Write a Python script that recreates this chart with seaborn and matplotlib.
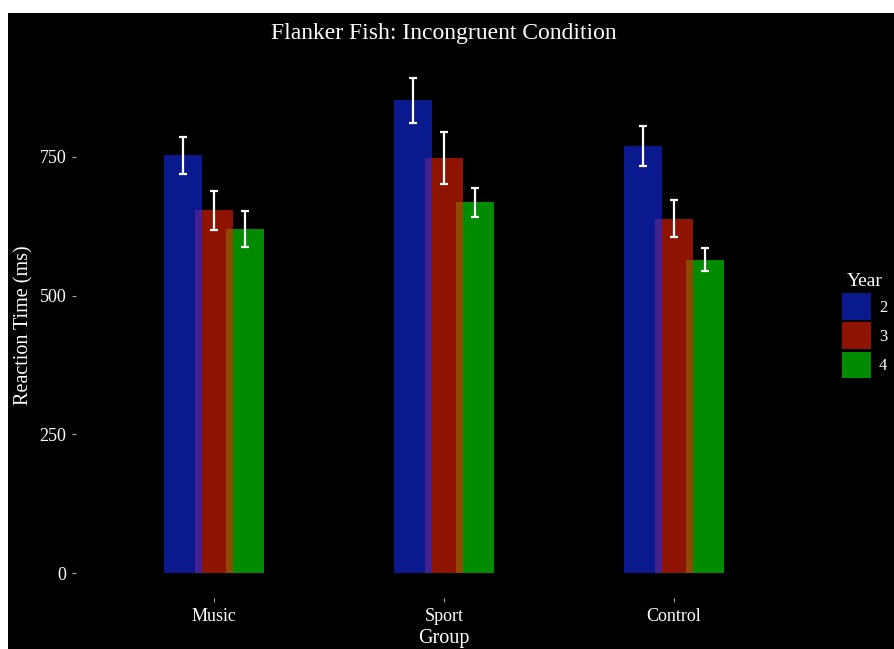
import numpy as np
import pandas as pd
import matplotlib
matplotlib.use("Agg")
import matplotlib.pyplot as plt
import seaborn as sns
from matplotlib.patches import Rectangle, Patch

# Données
groups = ["Music", "Sport", "Control"]
years = ["2", "3", "4"]
rt_year2 = [753, 852, 770]
rt_year3 = [654, 748, 639]
rt_year4 = [620, 668, 565]
err_year2 = [33, 41, 36]
err_year3 = [35, 47, 33]
err_year4 = [32, 26, 20]

colors = ["#112BEE", "#EE2000", "#00E900"]
alpha = 0.6

rows = []
for year, vals, errs in zip(years, [rt_year2, rt_year3, rt_year4], [err_year2, err_year3, err_year4]):
    for g, v, e in zip(groups, vals, errs):
        rows.append({"Group": g, "Year": year, "RT": v, "err": e})
df = pd.DataFrame(rows)

sns.set_style("white")
plt.rcParams["font.family"] = ["Liberation Serif", "DejaVu Serif"]

W, H = 894, 649
fig = plt.figure(figsize=(W / 100, H / 100), dpi=100, facecolor="white")
fig.patches.append(Rectangle((8 / W, 0), 1 - 8 / W, 1 - 13 / H, transform=fig.transFigure,
                             facecolor="black", edgecolor="none", zorder=-10))
ax = fig.add_axes([76 / W, 1 - 598 / H, 736 / W, 546 / H])
ax.set_facecolor("black")

sns.barplot(data=df, x="Group", y="RT", hue="Year", order=groups, hue_order=years,
            palette=colors, saturation=1, alpha=alpha, width=0.398, errorbar=None,
            legend=False, ax=ax)

bar_w = 38 / 230
for i, (cont, year) in enumerate(zip(ax.containers, years)):
    sub = df[df["Year"] == year].set_index("Group").loc[groups]
    xs = []
    for p in cont.patches:
        cx = p.get_x() + p.get_width() / 2
        p.set_width(bar_w)
        p.set_x(cx - bar_w / 2)
        p.set_zorder(3 - i)
        p.set_linewidth(0)
        xs.append(cx)
    ax.errorbar(xs, sub["RT"].values, yerr=sub["err"].values, fmt="none",
                ecolor="white", elinewidth=1.6, capsize=2.6, capthick=1.6, zorder=6)

ax.set_xlim(-0.6, 2.6)
ax.set_ylim(-44.7, 939)
ax.set_yticks([0, 250, 500, 750])
for s in ax.spines.values():
    s.set_visible(False)
ax.tick_params(axis="both", left=True, bottom=True, colors="#AAAAAA", length=3,
               width=0.8, pad=4, labelcolor="white", labelsize=13)
ax.set_xlabel("Group", color="white", fontsize=14.5, labelpad=3)
ax.set_ylabel("Reaction Time (ms)", color="white", fontsize=14.5, labelpad=4)

fig.text(444 / W, 1 - 33 / H, "Flanker Fish: Incongruent Condition", color="white",
         fontsize=17, ha="center", va="center")

handles = [Patch(facecolor=c, alpha=alpha, edgecolor="none") for c in colors]
leg = fig.legend(handles, years, title="Year", loc="upper left",
                 bbox_to_anchor=(834 / W, 1 - 265 / H), bbox_transform=fig.transFigure,
                 frameon=False, fontsize=12, title_fontsize=14, handlelength=1.7,
                 handleheight=2.1, labelspacing=0.15, borderpad=0, handletextpad=0.5)
for t in leg.get_texts():
    t.set_color("white")
leg.get_title().set_color("white")

fig.savefig("out.png", dpi=100, facecolor=fig.get_facecolor())
